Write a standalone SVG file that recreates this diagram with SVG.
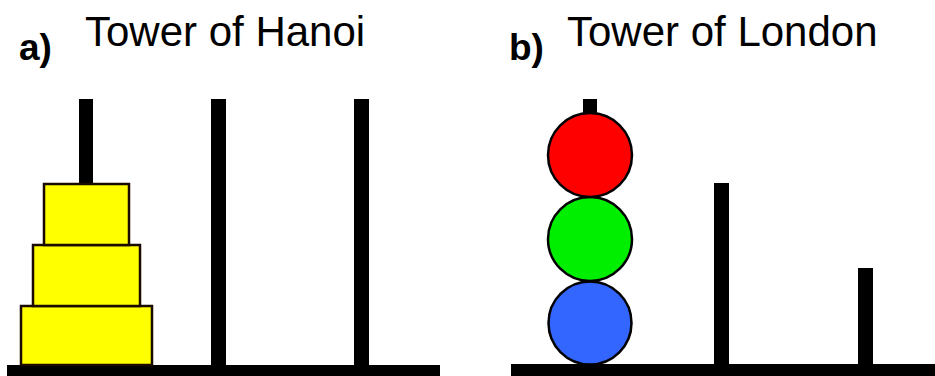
<svg xmlns="http://www.w3.org/2000/svg" width="935" height="376" viewBox="0 0 935 376">
<style>
.title{font-family:"Liberation Sans",Arial,sans-serif;font-size:42px;fill:#000}
.lab{font-family:"Liberation Sans",Arial,sans-serif;font-size:37px;font-weight:bold;fill:#000}
.bar{fill:#000}
.disk{fill:#ffff00;stroke:#1a0a00;stroke-width:2.5}
.ball{stroke:#000;stroke-width:2.5}
</style>
<rect width="935" height="376" fill="#fff"/>
<g id="hanoi">
  <text class="lab" x="19" y="60">a)</text>
  <text class="title" x="85" y="46">Tower of Hanoi</text>
  <rect class="bar" x="7" y="365" width="433" height="11"/>
  <rect class="bar" x="79" y="99" width="14" height="266"/>
  <rect class="bar" x="211" y="99" width="15" height="266"/>
  <rect class="bar" x="354" y="99" width="15" height="266"/>
  <g id="disk3"><rect class="disk" x="21" y="306" width="131" height="59"/></g>
  <g id="disk2"><rect class="disk" x="33" y="245" width="107" height="61"/></g>
  <g id="disk1"><rect class="disk" x="44" y="184" width="85" height="61"/></g>
</g>
<g id="london">
  <text class="lab" x="509" y="60">b)</text>
  <text class="title" x="567" y="46">Tower of London</text>
  <rect class="bar" x="511" y="364" width="424" height="12"/>
  <rect class="bar" x="583" y="99" width="14" height="265"/>
  <rect class="bar" x="714" y="183" width="15" height="181"/>
  <rect class="bar" x="858" y="268" width="15" height="96"/>
  <g id="blue"><circle class="ball" cx="590" cy="323" r="41.5" fill="#3366ff"/></g>
  <g id="green"><circle class="ball" cx="590" cy="239" r="42" fill="#00ee00"/></g>
  <g id="red"><circle class="ball" cx="590" cy="155" r="42" fill="#ff0000"/></g>
</g>
</svg>
